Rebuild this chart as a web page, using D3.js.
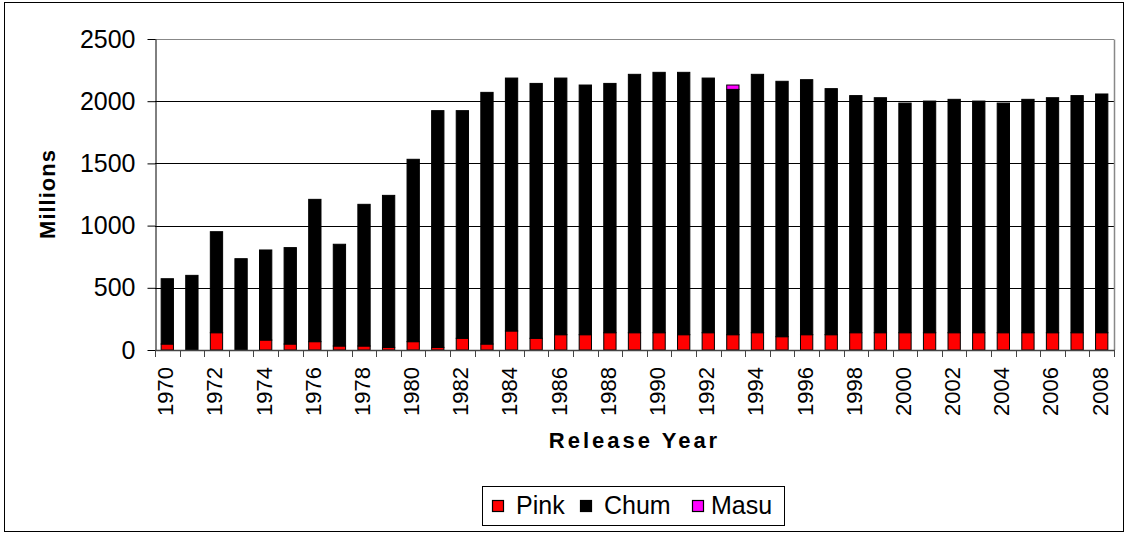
<!DOCTYPE html>
<html>
<head>
<meta charset="utf-8">
<script src="https://cdn.jsdelivr.net/npm/d3@7"></script>
<style>
  html, body { margin: 0; padding: 0; background: #fff; }
  svg { display: block; font-family: "Liberation Sans", Arial, sans-serif; }
</style>
</head>
<body>
<svg id="chart" width="1126" height="535"></svg>
<script>
const years = d3.range(1970, 2009).map(String);
const pink = [48,0,139,0,80,48,67,32,32,21,67,21,94,48,153,94,123,123,139,139,139,123,139,123,139,107,123,123,139,139,139,139,139,139,139,139,139,139,139];
const chum = [525,600,812,734,724,775,1144,818,1139,1222,1466,1903,1830,2023,2033,2049,2063,2007,2004,2077,2093,2109,2047,1972,2077,2053,2050,1978,1906,1889,1846,1862,1876,1862,1846,1876,1889,1906,1919];
const masu = [0,0,0,0,0,0,0,0,0,0,0,0,0,0,0,0,0,0,0,0,0,0,0,35,0,0,0,0,0,0,0,0,0,0,0,0,0,0,0];
const seriesNames = ["Pink", "Chum", "Masu"];
const colors = ["#ff0000", "#000000", "#ff00ff"];
const yTicks = [0, 500, 1000, 1500, 2000, 2500];
const xTickLabels = years.filter((d, i) => i % 2 === 0);

const svg = d3.select("#chart");
const plot = { left: 155, right: 1114, top: 39, bottom: 350 };
const FONT = "Liberation Sans, Arial, sans-serif";

// outer border
svg.append("rect").attr("x", 4.5).attr("y", 2.5).attr("width", 1119).attr("height", 529)
  .attr("fill", "none").attr("stroke", "#000").attr("stroke-width", 1);

const rows = years.map((y, i) => ({ year: y, Pink: pink[i], Chum: chum[i], Masu: masu[i] }));
const stacked = d3.stack().keys(seriesNames)(rows);

const x = d3.scaleBand().domain(years).range([plot.left, plot.right]).paddingInner(0.5).paddingOuter(0.25);
const y = d3.scaleLinear().domain([0, 2500]).range([plot.bottom, plot.top]);

// gridlines
svg.append("g").selectAll("line").data(yTicks.filter(d => d > 0)).join("line")
  .attr("x1", plot.left).attr("x2", plot.right)
  .attr("y1", d => Math.round(y(d)) + 0.5).attr("y2", d => Math.round(y(d)) + 0.5)
  .attr("stroke", d => d === 2500 ? "#888" : "#000").attr("stroke-width", 1);
// right border of plot area
svg.append("line").attr("x1", plot.right + 0.5).attr("x2", plot.right + 0.5)
  .attr("y1", Math.round(y(2500)) + 0.5).attr("y2", plot.bottom)
  .attr("stroke", "#888").attr("stroke-width", 1.5);

// bars
svg.append("g").selectAll("g").data(stacked).join("g")
  .attr("fill", (d, i) => colors[i])
  .selectAll("rect").data(d => d.filter(s => s[1] - s[0] > 0)).join("rect")
  .attr("x", d => x(d.data.year))
  .attr("width", x.bandwidth())
  .attr("y", d => y(d[1]))
  .attr("height", d => y(d[0]) - y(d[1]))
  .attr("stroke", "#000").attr("stroke-width", 1);

// y axis
const yAxis = d3.axisLeft(y).tickValues(yTicks).tickFormat(d3.format("d"))
  .tickSize(8).tickSizeOuter(0).tickPadding(12);
const gy = svg.append("g").attr("transform", `translate(${plot.left + 0.5},0)`).call(yAxis);
gy.select(".domain").attr("stroke", "#000");
gy.selectAll(".tick line").attr("stroke", "#000");
gy.selectAll("text").attr("font-size", 25).attr("fill", "#000").attr("font-family", FONT);

// x axis baseline and category boundary ticks
const step = x.step();
const boundaries = d3.range(years.length + 1).map(i => plot.left + i * step);
const xb = svg.append("g");
xb.append("line").attr("x1", plot.left).attr("x2", plot.right + 1)
  .attr("y1", plot.bottom + 0.5).attr("y2", plot.bottom + 0.5).attr("stroke", "#444").attr("stroke-width", 1.5);
xb.selectAll("line.t").data(boundaries).join("line").attr("class", "t")
  .attr("x1", d => Math.round(d) + 0.5).attr("x2", d => Math.round(d) + 0.5)
  .attr("y1", plot.bottom).attr("y2", plot.bottom + 7).attr("stroke", "#444").attr("stroke-width", 1);

const xAxis = d3.axisBottom(x).tickValues(xTickLabels).tickSize(0).tickPadding(0);
const gx = svg.append("g").attr("transform", `translate(0,${plot.bottom})`).call(xAxis);
gx.select(".domain").remove();
gx.selectAll("text")
  .attr("font-size", 22).attr("fill", "#000").attr("font-family", FONT)
  .attr("transform", "rotate(-90)")
  .attr("text-anchor", "end").attr("dy", "0.36em").attr("dx", 0).attr("y", -2).attr("x", -17);

// axis titles
svg.append("text").attr("x", (plot.left + plot.right) / 2).attr("y", 448)
  .attr("text-anchor", "middle").attr("font-size", 22).attr("font-weight", "bold")
  .attr("letter-spacing", 3).attr("font-family", FONT).text("Release Year");
svg.append("text").attr("transform", "translate(55,194) rotate(-90)")
  .attr("text-anchor", "middle").attr("font-size", 22).attr("font-weight", "bold")
  .attr("letter-spacing", 1).attr("font-family", FONT).text("Millions");

// legend
const lg = svg.append("g");
lg.append("rect").attr("x", 482.5).attr("y", 486.5).attr("width", 302).attr("height", 39)
  .attr("fill", "#fff").attr("stroke", "#000").attr("stroke-width", 1);
const squareX = [492, 580, 692];
const textX = [516, 604, 711];
lg.selectAll("rect.sw").data(seriesNames).join("rect").attr("class", "sw")
  .attr("x", (d, i) => squareX[i] + 0.5).attr("y", 500.5).attr("width", 11).attr("height", 11)
  .attr("fill", (d, i) => colors[i]).attr("stroke", "#000").attr("stroke-width", 1.2);
lg.selectAll("text.lt").data(seriesNames).join("text").attr("class", "lt")
  .attr("x", (d, i) => textX[i]).attr("y", 514).attr("font-size", 25).attr("fill", "#000")
  .attr("font-family", FONT).text(d => d);
</script>
</body>
</html>
